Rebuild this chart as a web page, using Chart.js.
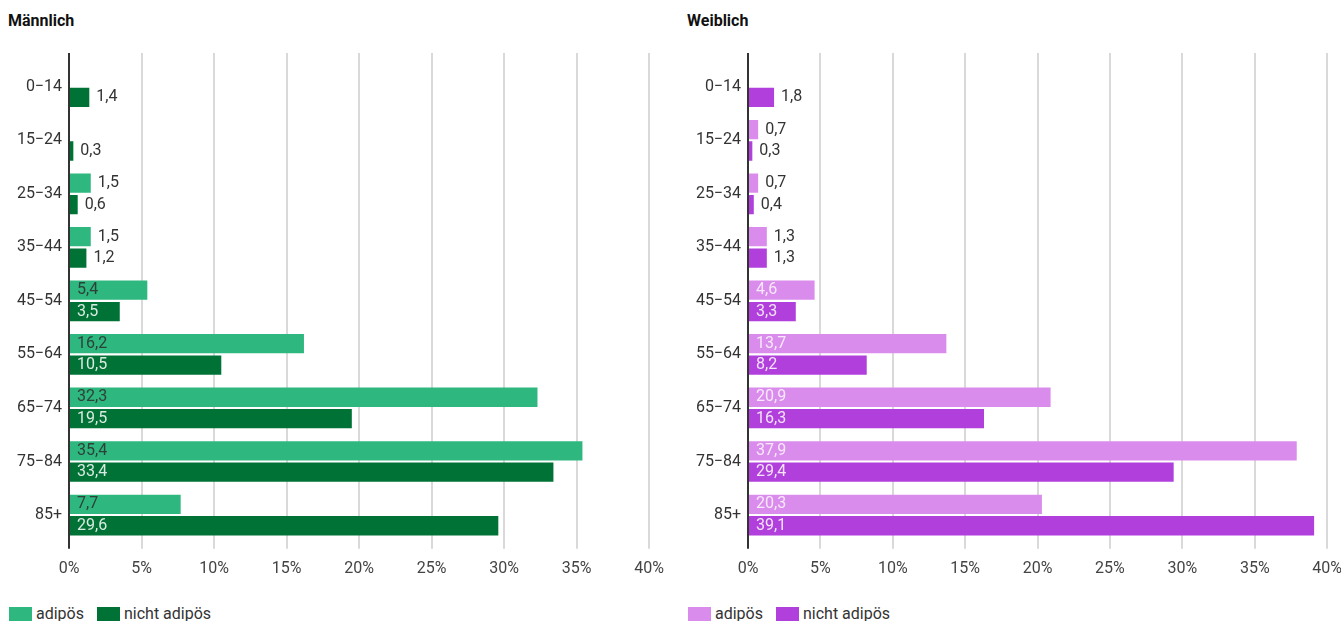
<!DOCTYPE html>
<html lang="de">
<head>
<meta charset="utf-8">
<title>Adipositas nach Alter und Geschlecht</title>
<script src="https://cdn.jsdelivr.net/npm/chart.js@4.4.1/dist/chart.umd.min.js"></script>
<style>
  html, body { margin: 0; padding: 0; background: #fff; overflow: hidden; }
  body { width: 1341px; height: 621px; position: relative; font-family: Roboto, sans-serif; }
  .panel { position: absolute; top: 0; height: 621px; }
  .panel h2 { position: absolute; left: 8px; top: 12px; margin: 0; font-size: 16px; line-height: 18px; font-weight: 700; color: #111; white-space: nowrap; }
  .chart { position: absolute; left: 0; top: 0; width: 100%; height: 592px; }
  .legend { position: absolute; left: 9px; top: 606px; display: flex; align-items: center; font-size: 16px; line-height: 16px; color: #333; white-space: nowrap; }
  .legend .item { display: flex; align-items: center; margin-right: 13px; }
  .legend .box { display: inline-block; width: 23px; height: 14px; margin-right: 4px; }
</style>
</head>
<body>
<div class="panel" id="leftPanel" style="left:0; width:675px;">
  <h2>Männlich</h2>
  <div class="chart"><canvas id="maleChart"></canvas></div>
  <div class="legend" id="maleLegend"></div>
</div>
<div class="panel" id="rightPanel" style="left:679px; width:674px;">
  <h2>Weiblich</h2>
  <div class="chart"><canvas id="femaleChart"></canvas></div>
  <div class="legend" id="femaleLegend"></div>
</div>
<script>
// Altersgruppen und Anteile in %
const ageGroups = ['0−14', '15−24', '25−34', '35−44', '45−54', '55−64', '65−74', '75−84', '85+'];
const seriesNames = ['adipös', 'nicht adipös'];

const maleObese    = [null, null, 1.5, 1.5, 5.4, 16.2, 32.3, 35.4, 7.7];
const maleNonObese = [1.4, 0.3, 0.6, 1.2, 3.5, 10.5, 19.5, 33.4, 29.6];

const femaleObese    = [null, 0.7, 0.7, 1.3, 4.6, 13.7, 20.9, 37.9, 20.3];
const femaleNonObese = [1.8, 0.3, 0.4, 1.3, 3.3, 8.2, 16.3, 29.4, 39.1];

const xMin = 0, xMax = 40, xStep = 5;

const greens  = ['#2eb77e', '#007236'];
const purples = ['#da8cec', '#b03fdc'];

Chart.defaults.font.family = 'Roboto';

// grid lines stick out a bit above the plot area
const gridTop = {
  id: 'gridTop',
  beforeDatasetsDraw(chart) {
    const { ctx, chartArea, scales: { x } } = chart;
    ctx.save();
    ctx.lineWidth = 2;
    x.ticks.forEach(t => {
      const px = Math.round(x.getPixelForValue(t.value));
      ctx.strokeStyle = t.value === 0 ? '#333' : '#d9d9d9';
      ctx.beginPath();
      ctx.moveTo(px, chartArea.top - 7);
      ctx.lineTo(px, chartArea.top);
      ctx.stroke();
    });
    ctx.restore();
  }
};

// value labels: inside the bar if they fit, otherwise right of it
const valueLabels = {
  id: 'valueLabels',
  afterDatasetsDraw(chart, args, opts) {
    const ctx = chart.ctx;
    ctx.save();
    ctx.font = '16px Roboto';
    ctx.textBaseline = 'middle';
    ctx.textAlign = 'left';
    chart.data.datasets.forEach((ds, i) => {
      const meta = chart.getDatasetMeta(i);
      meta.data.forEach((bar, j) => {
        const v = ds.data[j];
        if (v == null) return;
        const text = v.toFixed(1).replace('.', ',');
        const w = ctx.measureText(text).width;
        if (bar.x - bar.base > w + 12) {
          ctx.fillStyle = opts.inside[i];
          ctx.fillText(text, bar.base + 7, bar.y);
        } else {
          ctx.fillStyle = '#333';
          ctx.fillText(text, bar.x + 7, bar.y);
        }
      });
    });
    ctx.restore();
  }
};

function buildLegend(id, colors) {
  const el = document.getElementById(id);
  seriesNames.forEach((name, i) => {
    const item = document.createElement('span');
    item.className = 'item';
    item.innerHTML = '<span class="box" style="background:' + colors[i] + '"></span>' + name;
    el.appendChild(item);
  });
}

function makeChart(canvasId, obese, nonObese, colors, insideColors) {
  return new Chart(document.getElementById(canvasId), {
    type: 'bar',
    data: {
      labels: ageGroups,
      datasets: [
        { label: seriesNames[0], data: obese, backgroundColor: colors[0] },
        { label: seriesNames[1], data: nonObese, backgroundColor: colors[1] }
      ]
    },
    options: {
      indexAxis: 'y',
      responsive: true,
      maintainAspectRatio: false,
      animation: false,
      layout: { padding: { top: 60, left: 8, right: 0, bottom: 2 } },
      datasets: { bar: { barPercentage: 0.9, categoryPercentage: 0.8 } },
      plugins: {
        legend: { display: false },
        tooltip: { enabled: false },
        valueLabels: { inside: insideColors }
      },
      scales: {
        x: {
          min: xMin,
          max: xMax,
          ticks: { stepSize: xStep, padding: 11, color: '#444', font: { size: 16 }, callback: v => v + '%' },
          grid: { color: c => (c.tick && c.tick.value === 0) ? '#333' : '#d9d9d9', lineWidth: 2, tickLength: 7 },
          border: { display: false }
        },
        y: {
          z: 1,
          grid: { display: false, drawTicks: false, tickLength: 0 },
          border: { display: true, color: '#333', width: 2 },
          ticks: { padding: 7, color: '#333', font: { size: 16 } },
          afterFit: s => { s.width = 61; }
        }
      }
    },
    plugins: [gridTop, valueLabels]
  });
}

makeChart('maleChart', maleObese, maleNonObese, greens,
  ['rgba(45,45,45,0.85)', 'rgba(255,255,255,0.85)']);
makeChart('femaleChart', femaleObese, femaleNonObese, purples,
  ['rgba(255,255,255,0.8)', 'rgba(255,255,255,0.85)']);

buildLegend('maleLegend', greens);
buildLegend('femaleLegend', purples);
</script>
</body>
</html>
